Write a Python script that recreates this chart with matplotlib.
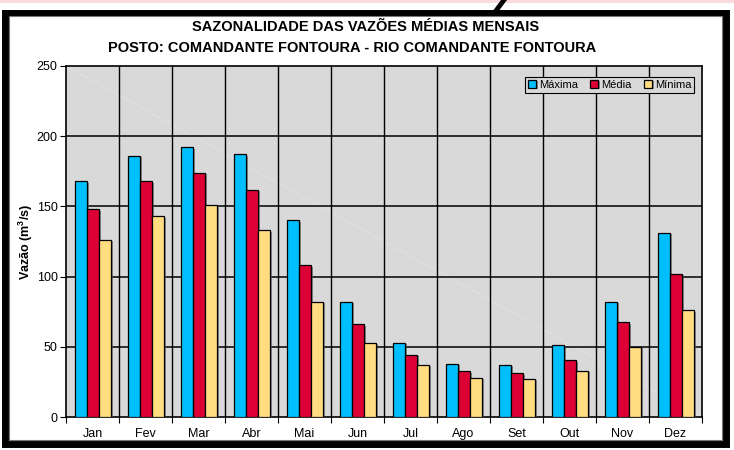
import matplotlib
matplotlib.use("Agg")
import matplotlib.pyplot as plt
import matplotlib.patheffects as pe
from matplotlib.patches import Rectangle, Polygon
import numpy as np

plt.rcParams['font.family'] = ['Liberation Sans', 'DejaVu Sans']
plt.rcParams['mathtext.fontset'] = 'custom'
plt.rcParams['mathtext.rm'] = 'Liberation Sans:bold'
plt.rcParams['mathtext.bf'] = 'Liberation Sans:bold'

months = ["Jan", "Fev", "Mar", "Abr", "Mai", "Jun", "Jul", "Ago", "Set", "Out", "Nov", "Dez"]
maxima = [168, 186, 192, 187, 140, 82, 53, 38, 37, 51, 82, 131]
media = [148, 168, 174, 162, 108, 66, 44.5, 32.5, 31, 40.5, 67.5, 102]
minima = [126, 143, 151, 133, 82, 53, 37, 28, 27, 33, 50, 76]
series_names = ["Máxima", "Média", "Mínima"]
colors = ["#00BFFF", "#DC0035", "#FFDD80"]

W, H = 734, 450
fig = plt.figure(figsize=(W / 100, H / 100), dpi=100)
fig.patch.set_facecolor("white")

# top pink band and decorative stroke
fig.add_artist(Rectangle((0, (H - 3) / H), 1, 3 / H, transform=fig.transFigure,
                         facecolor="#FADADD", edgecolor="none"))
fig.add_artist(Polygon([(492 / W, 1 - 12 / H), (498 / W, 1 - 12 / H), (507 / W, 1.0), (501 / W, 1.0)],
                       closed=True, transform=fig.transFigure, facecolor="black", edgecolor="none"))
# outer frame
fig.add_artist(Rectangle((5 / W, (H - 443.5) / H), 720.5 / W, 431 / H, transform=fig.transFigure,
                         facecolor="none", edgecolor="black", linewidth=5))
fig.add_artist(Rectangle((8.5 / W, (H - 440) / H), 713.5 / W, 424 / H, transform=fig.transFigure,
                         facecolor="none", edgecolor="#777777", linewidth=0.8))

ax = fig.add_axes([66 / W, (H - 417) / H, 636 / W, 351 / H])
ax.set_facecolor("#D9D9D9")

x = np.arange(len(months))
bw = 12 / 53
offsets = [-bw, 0, bw]
shadow = [pe.SimplePatchShadow(offset=(1.5, -1), shadow_rgbFace="#555555", alpha=0.6), pe.Normal()]
for vals, off, col, name in zip([maxima, media, minima], offsets, colors, series_names):
    bars = ax.bar(x + off, vals, width=bw, color=col, edgecolor="black", linewidth=0.9,
                  label=name, zorder=3)
    for b in bars:
        b.set_path_effects(shadow)

# faint diagonal artifact line
ax.plot([0, 1], [1, 0], transform=ax.transAxes, color="white", lw=0.5, alpha=0.3, zorder=1)

ax.set_xlim(-0.5, 11.5)
ax.set_ylim(0, 250)
ax.set_yticks([0, 50, 100, 150, 200, 250])
ax.set_yticklabels(["0", "50", "100", "150", "200", "250"], fontsize=9)
ax.set_xticks(x)
ax.set_xticklabels(months, fontsize=9)
ax.tick_params(axis="x", length=0, pad=8)
ax.set_xticks(np.arange(-0.5, 12, 1), minor=True)
ax.tick_params(axis="x", which="minor", length=4, width=0.8, direction="out")
ax.tick_params(axis="y", length=4, width=0.8, direction="out", pad=2)

for yv in [50, 100, 150, 200]:
    ax.axhline(yv, color="black", lw=1.1, zorder=2)
for xv in np.arange(0.5, 11.5, 1):
    ax.axvline(xv, color="black", lw=1.0, zorder=2)

for s in ax.spines.values():
    s.set_linewidth(1.2)
    s.set_color("black")

ax.set_ylabel(r"Vazão (m$^{3}$/s)", fontsize=9, fontweight="bold")
ax.yaxis.set_label_coords(-31 / 636, 0.5)

fig.text(366 / W, 1 - 27 / H, "SAZONALIDADE DAS VAZÕES MÉDIAS MENSAIS", ha="center", va="center",
         fontsize=10.5, fontweight="bold")
fig.text(352 / W, 1 - 48 / H, "POSTO: COMANDANTE FONTOURA - RIO COMANDANTE FONTOURA", ha="center",
         va="center", fontsize=10.5, fontweight="bold")

leg = ax.legend(loc="upper right", bbox_to_anchor=(1 - 8 / 636, 1 - 11 / 351), ncol=3, fontsize=8,
                frameon=True, fancybox=False, framealpha=1, facecolor="#D9D9D9", edgecolor="black",
                handlelength=0.75, handleheight=0.75, handletextpad=0.25, columnspacing=1.1,
                borderpad=0.25, borderaxespad=0)
leg.get_frame().set_linewidth(0.8)
leg.set_zorder(5)

fig.savefig("out.png", dpi=100)
